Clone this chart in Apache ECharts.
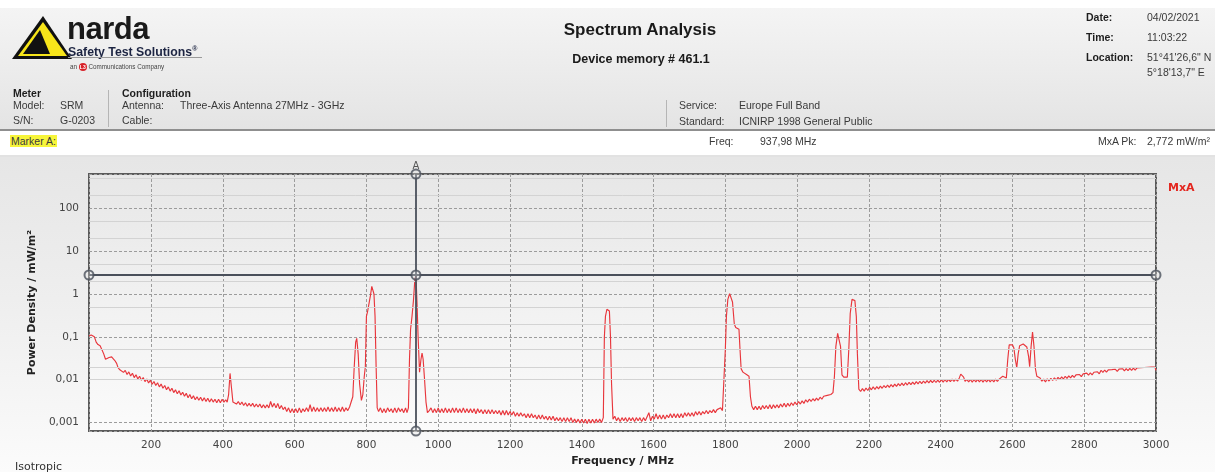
<!DOCTYPE html>
<html>
<head>
<meta charset="utf-8">
<script src="https://cdn.jsdelivr.net/npm/echarts@6/dist/echarts.min.js"></script>
<style>
  html, body { margin:0; padding:0; }
  body { width:1215px; height:472px; position:relative; overflow:hidden; background:#fff;
         font-family:"Liberation Sans", Arial, sans-serif; color:#333; }
  .abs { position:absolute; white-space:nowrap; }
  #hdrbg { position:absolute; left:0; top:8px; width:1215px; height:122px;
           background:linear-gradient(#f4f4f4, #e4e4e4); }
  #hdrsep { position:absolute; left:0; top:129px; width:1215px; height:2px; background:#8f8f8f; }
  #mkrow { position:absolute; left:0; top:131px; width:1215px; height:24px; background:#fff; }
  #mksep { position:absolute; left:0; top:155px; width:1215px; height:2px; background:#e2e2e2; }
  #panel { position:absolute; left:0; top:157px; width:1215px; height:315px;
           background:linear-gradient(#e6e6e6 0%, #eeeeee 45%, #fbfbfb 100%); }
  #chart { position:absolute; left:0; top:0; width:1215px; height:472px; }
  .s { font-size:10.5px; line-height:12px; color:#3a3a3a; }
  .b { font-weight:bold; color:#1e1e1e; }
  .vline { position:absolute; width:1px; background:#b5b5b5; }
</style>
</head>
<body>
<div id="hdrbg"></div>
<div id="hdrsep"></div>
<div id="mkrow"></div>
<div id="mksep"></div>
<div id="panel"></div>
<div id="chart"></div>

<!-- logo -->
<svg class="abs" style="left:10px;top:14px" width="62" height="48" viewBox="0 0 62 48">
  <polygon points="33,2 2,45 62,45" fill="#111"/>
  <polygon points="33,8 8,42 57,42" fill="#f7e51a"/>
  <polygon points="30,16 13,40 40,40" fill="#111"/>
</svg>
<div class="abs" style="left:67px;top:12px;font-size:31px;font-weight:bold;letter-spacing:-0.5px;color:#1a1a1a;line-height:34px">narda</div>
<div class="abs" style="left:68px;top:42px;font-size:12.3px;font-weight:bold;color:#1c2442;line-height:14px">Safety Test Solutions<sup style="font-size:7px">®</sup></div>
<div class="abs" style="left:68px;top:57px;width:134px;height:1px;background:#9a9a9a"></div>
<div class="abs" style="left:70px;top:63px;font-size:6.3px;color:#444;line-height:8px">an <span style="display:inline-block;width:8px;height:8px;border-radius:4px;background:#d8232a;color:#fff;font-size:5px;text-align:center;line-height:8px;font-weight:bold;vertical-align:middle">L3</span> Communications Company</div>

<div class="abs" style="left:440px;top:20px;width:400px;text-align:center;font-size:17px;font-weight:bold;color:#1a1a1a;line-height:20px">Spectrum Analysis</div>
<div class="abs" style="left:440px;top:52px;width:402px;text-align:center;font-size:12.5px;font-weight:bold;color:#1a1a1a;line-height:15px">Device memory # 461.1</div>

<div class="abs s b" style="left:1086px;top:11px">Date:</div>
<div class="abs s" style="left:1147px;top:11px">04/02/2021</div>
<div class="abs s b" style="left:1086px;top:31px">Time:</div>
<div class="abs s" style="left:1147px;top:31px">11:03:22</div>
<div class="abs s b" style="left:1086px;top:51px">Location:</div>
<div class="abs s" style="left:1147px;top:51px">51°41'26,6" N</div>
<div class="abs s" style="left:1147px;top:66px">5°18'13,7" E</div>

<div class="abs s b" style="left:13px;top:87px">Meter</div>
<div class="abs s" style="left:13px;top:99px">Model:</div>
<div class="abs s" style="left:60px;top:99px">SRM</div>
<div class="abs s" style="left:13px;top:114px">S/N:</div>
<div class="abs s" style="left:60px;top:114px">G-0203</div>
<div class="vline" style="left:108px;top:90px;height:37px"></div>
<div class="abs s b" style="left:122px;top:87px">Configuration</div>
<div class="abs s" style="left:122px;top:99px">Antenna:</div>
<div class="abs s" style="left:180px;top:99px">Three-Axis Antenna 27MHz - 3GHz</div>
<div class="abs s" style="left:122px;top:114px">Cable:</div>
<div class="vline" style="left:666px;top:100px;height:27px"></div>
<div class="abs s" style="left:679px;top:99px">Service:</div>
<div class="abs s" style="left:739px;top:99px">Europe Full Band</div>
<div class="abs s" style="left:679px;top:115px">Standard:</div>
<div class="abs s" style="left:739px;top:115px">ICNIRP 1998 General Public</div>

<div class="abs s" style="left:10px;top:135px;background:#f7f53a;padding:0 1px">Marker A:</div>
<div class="abs s" style="left:709px;top:135px">Freq:</div>
<div class="abs s" style="left:760px;top:135px">937,98 MHz</div>
<div class="abs s" style="left:1098px;top:135px">MxA Pk:</div>
<div class="abs s" style="left:1147px;top:135px">2,772 mW/m²</div>

<div class="abs" style="left:15px;top:460px;font-family:'DejaVu Sans',sans-serif;font-size:11px;color:#333;line-height:13px">Isotropic</div>

<script>
// ---- data ----
const seriesName = 'MxA';
const xMinMHz = 27;
const xMaxMHz = 3000;
const yMinDensity = 0.000631;
const yMaxDensity = 631;
const yDecadeLabels = [0.001, 0.01, 0.1, 1, 10, 100];
const minorGridValues = [0.002, 0.005, 0.02, 0.05, 0.2, 0.5, 2, 5, 20, 50, 200, 500];
const markerFreqMHz = 937.98;
const markerPeakDensity = 2.772;

// [frequency MHz, power density mW/m²]
const traceMxA = [
  [27,0.105],[33,0.11],[38,0.118],[42,0.1],[47,0.075],[52,0.066],[58,0.062],[63,0.05],[68,0.04],[73,0.03],
  [78,0.031],[83,0.033],[90,0.034],[95,0.037],[99,0.028],[104,0.024],[108,0.019],[113,0.017],[118,0.0175],[123,0.0148],
  [128,0.0165],[133,0.0132],[138,0.0152],[143,0.0122],[148,0.0141],[153,0.0112],[158,0.013],[163,0.0104],[168,0.012],[173,0.0097],
  [178,0.0112],[183,0.009],[188,0.0104],[193,0.0084],[198,0.0097],[203,0.0078],[208,0.0091],[213,0.0073],[218,0.0085],[223,0.0068],
  [228,0.0079],[233,0.0063],[238,0.0073],[243,0.0058],[248,0.0068],[253,0.0054],[258,0.0063],[263,0.005],[268,0.0058],[273,0.0047],
  [278,0.0055],[283,0.0044],[288,0.0051],[293,0.0041],[298,0.0048],[303,0.0038],[308,0.0045],[313,0.0036],[318,0.0042],[323,0.0034],
  [328,0.004],[333,0.0033],[338,0.0039],[343,0.0032],[348,0.0038],[353,0.0031],[358,0.0037],[363,0.003],[368,0.0036],[373,0.003],
  [378,0.0035],[383,0.0029],[388,0.0035],[393,0.0029],[398,0.0035],[403,0.003],[408,0.0034],[412,0.003],[416,0.0045],[420,0.014],
  [424,0.0065],[428,0.003],[433,0.0033],[438,0.0027],[443,0.0031],[448,0.0026],[453,0.003],[458,0.0025],[463,0.0029],[468,0.0024],
  [473,0.0028],[478,0.0024],[483,0.0028],[488,0.0023],[493,0.0027],[498,0.0023],[503,0.0027],[508,0.0022],[513,0.0026],[518,0.0022],
  [523,0.0026],[528,0.0022],[533,0.0031],[538,0.0023],[543,0.0028],[548,0.0022],[553,0.0028],[558,0.0021],[563,0.0025],[568,0.002],
  [573,0.0023],[578,0.0018],[583,0.0022],[588,0.0017],[593,0.0021],[598,0.0017],[603,0.0021],[608,0.0017],[613,0.0022],[618,0.0017],
  [623,0.0021],[628,0.0018],[633,0.0022],[638,0.0018],[643,0.0026],[648,0.0018],[653,0.0023],[658,0.0018],[663,0.0022],[668,0.0018],
  [673,0.0022],[678,0.0018],[683,0.0022],[688,0.0018],[693,0.0023],[698,0.0018],[703,0.0022],[708,0.0018],[713,0.0023],[718,0.0018],
  [723,0.0022],[728,0.0018],[733,0.0023],[738,0.0018],[743,0.0022],[748,0.0019],[753,0.0023],[758,0.0025],[762,0.004],[766,0.02],
  [770,0.075],[773,0.092],[777,0.04],[781,0.008],[786,0.0033],[790,0.0045],[794,0.012],[797,0.02],[800,0.3],[803,0.38],
  [807,0.42],[811,0.9],[815,1.5],[818,1.55],[821,1.0],[824,0.3],[827,0.02],[830,0.0022],[834,0.0018],[839,0.0022],
  [844,0.0017],[849,0.0021],[854,0.0017],[859,0.0022],[864,0.0018],[869,0.0021],[874,0.0017],[879,0.0022],[884,0.0017],[889,0.0022],
  [894,0.0018],[899,0.0021],[904,0.0017],[909,0.0022],[913,0.0017],[917,0.0022],[920,0.03],[923,0.15],[927,0.3],[931,0.7],
  [935,2.2],[938,2.77],[941,0.6],[944,0.1],[948,0.015],[952,0.03],[955,0.042],[958,0.03],[962,0.01],[966,0.003],
  [970,0.0017],[975,0.0019],[980,0.0022],[985,0.0017],[990,0.0021],[995,0.0017],[1000,0.0022],[1005,0.0017],[1010,0.0021],[1015,0.0017],
  [1020,0.0022],[1025,0.0017],[1030,0.0021],[1035,0.0017],[1040,0.0022],[1045,0.0017],[1050,0.0022],[1055,0.0017],[1060,0.0021],[1065,0.0017],
  [1070,0.0022],[1075,0.0017],[1080,0.0021],[1085,0.0017],[1090,0.0021],[1095,0.0017],[1100,0.0021],[1105,0.0016],[1110,0.0021],[1115,0.0017],
  [1120,0.002],[1125,0.0016],[1130,0.002],[1135,0.0016],[1140,0.002],[1145,0.0016],[1150,0.002],[1155,0.0016],[1160,0.0019],[1165,0.0016],
  [1170,0.0019],[1175,0.0015],[1180,0.0019],[1185,0.0015],[1190,0.0019],[1195,0.0015],[1200,0.0018],[1205,0.0015],[1210,0.0018],[1215,0.0014],
  [1220,0.0017],[1225,0.0014],[1230,0.0017],[1235,0.0014],[1240,0.0016],[1245,0.0013],[1250,0.0016],[1255,0.0013],[1260,0.0016],[1265,0.0013],
  [1270,0.0015],[1275,0.0012],[1280,0.0015],[1285,0.0012],[1290,0.0015],[1295,0.0012],[1300,0.0014],[1305,0.00115],[1310,0.0014],[1315,0.00115],
  [1320,0.0014],[1325,0.0011],[1330,0.0013],[1335,0.0011],[1340,0.0013],[1345,0.00105],[1350,0.0013],[1355,0.00105],[1360,0.0013],[1365,0.00105],
  [1370,0.0013],[1375,0.001],[1380,0.0012],[1385,0.001],[1390,0.0012],[1395,0.00098],[1400,0.0012],[1405,0.00098],[1410,0.0012],[1415,0.00095],
  [1420,0.0012],[1425,0.00098],[1430,0.0012],[1435,0.00098],[1440,0.0012],[1445,0.001],[1450,0.0012],[1455,0.001],[1460,0.0013],[1463,0.1],
  [1466,0.3],[1470,0.44],[1474,0.45],[1477,0.4],[1480,0.1],[1483,0.008],[1487,0.0012],[1492,0.0014],[1497,0.0011],[1502,0.0013],
  [1507,0.00105],[1512,0.0013],[1517,0.0011],[1522,0.0013],[1527,0.00105],[1532,0.0013],[1537,0.0011],[1542,0.0013],[1547,0.00105],[1552,0.0013],
  [1557,0.0011],[1562,0.0013],[1567,0.00105],[1572,0.0013],[1577,0.0011],[1582,0.0012],[1587,0.0017],[1592,0.0011],[1597,0.0014],[1602,0.0012],
  [1607,0.0016],[1612,0.0012],[1617,0.0015],[1622,0.0012],[1627,0.0015],[1632,0.0012],[1637,0.0015],[1642,0.0013],[1647,0.0016],[1652,0.0013],
  [1657,0.0016],[1662,0.0013],[1667,0.0016],[1672,0.0013],[1677,0.0016],[1682,0.0013],[1687,0.0017],[1692,0.0014],[1697,0.0017],[1702,0.0014],
  [1707,0.0017],[1712,0.0014],[1717,0.0018],[1722,0.0015],[1727,0.0018],[1732,0.0015],[1737,0.0018],[1742,0.0016],[1747,0.0019],[1752,0.0016],
  [1757,0.0019],[1762,0.0017],[1767,0.002],[1772,0.0017],[1777,0.002],[1782,0.0018],[1787,0.0022],[1792,0.0019],[1797,0.0021],[1800,0.05],
  [1803,0.3],[1807,0.75],[1812,1.02],[1816,0.95],[1820,0.65],[1825,0.2],[1829,0.165],[1834,0.16],[1838,0.15],[1841,0.05],
  [1844,0.018],[1849,0.015],[1854,0.014],[1860,0.013],[1866,0.012],[1870,0.004],[1874,0.0024],[1879,0.002],[1884,0.0024],[1889,0.002],
  [1894,0.0024],[1899,0.002],[1904,0.0025],[1909,0.0021],[1914,0.0025],[1919,0.0021],[1924,0.0026],[1929,0.0021],[1934,0.0026],[1939,0.0022],
  [1944,0.0026],[1949,0.0022],[1954,0.0027],[1959,0.0023],[1964,0.0028],[1969,0.0023],[1974,0.0028],[1979,0.0024],[1984,0.0029],[1989,0.0025],
  [1994,0.003],[1999,0.0026],[2004,0.0031],[2009,0.0027],[2014,0.0032],[2019,0.0028],[2024,0.0034],[2029,0.003],[2034,0.0035],[2039,0.0031],
  [2044,0.0036],[2049,0.0032],[2054,0.0037],[2059,0.0033],[2064,0.0039],[2069,0.0035],[2074,0.0041],[2079,0.0037],[2084,0.0043],[2089,0.0039],
  [2094,0.0045],[2100,0.005],[2104,0.012],[2108,0.06],[2113,0.12],[2117,0.125],[2121,0.06],[2125,0.013],[2130,0.0115],[2135,0.011],
  [2140,0.0115],[2144,0.05],[2148,0.35],[2153,0.75],[2157,0.8],[2161,0.7],[2165,0.3],[2168,0.04],[2172,0.006],[2177,0.0053],
  [2182,0.0062],[2187,0.0054],[2192,0.0064],[2197,0.0056],[2202,0.0066],[2207,0.0058],[2212,0.0068],[2217,0.0059],[2222,0.0069],[2227,0.0061],
  [2232,0.0071],[2237,0.0063],[2242,0.0073],[2247,0.0065],[2252,0.0075],[2257,0.0066],[2262,0.0077],[2267,0.0068],[2272,0.0079],[2277,0.007],
  [2282,0.0081],[2287,0.0072],[2292,0.0083],[2297,0.0073],[2302,0.0085],[2307,0.0075],[2312,0.0087],[2317,0.0077],[2322,0.0088],[2327,0.0078],
  [2332,0.009],[2337,0.008],[2342,0.0092],[2347,0.0081],[2352,0.0093],[2357,0.0083],[2362,0.0095],[2367,0.0084],[2372,0.0096],[2377,0.0085],
  [2382,0.0097],[2387,0.0086],[2392,0.0098],[2397,0.0087],[2402,0.01],[2407,0.0088],[2412,0.0101],[2417,0.0089],[2422,0.0102],[2427,0.009],
  [2432,0.0103],[2437,0.0091],[2442,0.0103],[2447,0.0092],[2452,0.011],[2456,0.0135],[2460,0.0135],[2464,0.0115],[2468,0.0091],[2473,0.0102],
  [2478,0.0089],[2483,0.0101],[2488,0.0088],[2493,0.0101],[2498,0.0089],[2503,0.0102],[2508,0.0089],[2513,0.0101],[2518,0.0088],[2523,0.0101],
  [2528,0.0089],[2533,0.0102],[2538,0.0089],[2543,0.0101],[2548,0.0089],[2553,0.0103],[2558,0.0091],[2563,0.0103],[2568,0.011],[2573,0.012],
  [2578,0.0125],[2583,0.011],[2587,0.03],[2591,0.065],[2596,0.072],[2600,0.065],[2604,0.055],[2608,0.03],[2612,0.019],[2616,0.04],
  [2620,0.062],[2625,0.066],[2630,0.068],[2635,0.064],[2640,0.058],[2645,0.035],[2648,0.02],[2652,0.06],[2656,0.13],[2660,0.06],
  [2664,0.018],[2668,0.012],[2672,0.0125],[2677,0.011],[2682,0.0092],[2687,0.0103],[2692,0.0088],[2697,0.0105],[2702,0.0093],[2707,0.0108],
  [2712,0.0096],[2717,0.0111],[2722,0.0098],[2727,0.0113],[2732,0.0101],[2737,0.0116],[2742,0.0104],[2747,0.012],[2752,0.0107],[2757,0.0123],
  [2762,0.011],[2767,0.0126],[2772,0.0113],[2777,0.0129],[2782,0.0116],[2787,0.0132],[2792,0.0118],[2797,0.0137],[2802,0.0124],[2807,0.0142],
  [2812,0.0127],[2817,0.0145],[2822,0.013],[2827,0.0149],[2832,0.0134],[2837,0.0153],[2842,0.0137],[2847,0.0166],[2852,0.0148],[2857,0.0168],
  [2862,0.015],[2867,0.017],[2872,0.0153],[2877,0.0172],[2882,0.0155],[2887,0.0175],[2892,0.0157],[2897,0.0177],[2902,0.0159],[2907,0.018],
  [2912,0.0161],[2917,0.0182],[2922,0.0163],[2927,0.0184],[2932,0.0165],[2937,0.0186],[2942,0.0167],[2947,0.0188],[2952,0.0169],[2957,0.019],
  [2962,0.0171],[2967,0.0192],[2972,0.0173],[2977,0.0194],[2982,0.0175],[2987,0.0196],[2992,0.0177],[2997,0.0198],[3000,0.0165]
];

// marker symbol positions (marker A crosshair)
const markerPoints = [
  [xMinMHz, markerPeakDensity], [xMaxMHz, markerPeakDensity], [markerFreqMHz, markerPeakDensity],
  [markerFreqMHz, yMaxDensity], [markerFreqMHz, yMinDensity]
];

const chart = echarts.init(document.getElementById('chart'), null, { renderer: 'canvas' });

function fmtDecade(v) {
  const r = Number(Number(v).toPrecision(3));
  if (yDecadeLabels.indexOf(r) < 0) return '';
  return String(r).replace('.', ',');
}

const axisFont = { fontFamily: 'DejaVu Sans', fontSize: 10.5, color: '#444' };
const markColor = '#4a505b';

chart.setOption({
  animation: false,
  backgroundColor: 'transparent',
  grid: {
    left: 89, right: 59, top: 174, bottom: 40,
    show: true,
    borderColor: '#5a5a5a', borderWidth: 2,
    backgroundColor: new echarts.graphic.LinearGradient(0, 0, 0, 1, [
      { offset: 0, color: '#e7e7e7' }, { offset: 1, color: '#fbfbfb' }
    ])
  },
  legend: {
    data: [seriesName], left: 1158, top: 176, icon: 'none', itemWidth: 0, itemGap: 0,
    selectedMode: false,
    textStyle: { color: '#e3261f', fontWeight: 'bold', fontSize: 11, fontFamily: 'DejaVu Sans' }
  },
  xAxis: {
    type: 'value', min: xMinMHz, max: xMaxMHz,
    splitNumber: 15, minInterval: 200, maxInterval: 200,
    name: 'Frequency / MHz', nameLocation: 'middle', nameGap: 21,
    nameTextStyle: { fontFamily: 'DejaVu Sans', fontSize: 11, fontWeight: 'bold', color: '#222' },
    axisLine: { show: false }, axisTick: { show: false },
    axisLabel: Object.assign({ margin: 9, showMinLabel: false,
      formatter: v => (v === xMinMHz ? '' : String(v)) }, axisFont),
    splitLine: { show: true, lineStyle: { color: '#9c9c9c', type: [3, 2], width: 1 } }
  },
  yAxis: {
    type: 'log', logBase: 10, min: yMinDensity, max: yMaxDensity,
    name: 'Power Density / mW/m²', nameLocation: 'middle', nameGap: 49, nameRotate: 90,
    nameTextStyle: { fontFamily: 'DejaVu Sans', fontSize: 11, fontWeight: 'bold', color: '#222' },
    axisLine: { show: false }, axisTick: { show: false },
    axisLabel: Object.assign({ margin: 10, showMinLabel: false, showMaxLabel: false,
      formatter: fmtDecade }, axisFont),
    splitLine: { show: true, lineStyle: { color: '#9c9c9c', type: [3, 2], width: 1 } }
  },
  series: [
    {
      name: 'minor-grid', type: 'line', data: [], z: 1, silent: true,
      markLine: {
        silent: true, symbol: ['none', 'none'], animation: false,
        label: { show: false },
        lineStyle: { color: '#d3d3d3', type: 'solid', width: 1 },
        data: minorGridValues.map(v => ({ yAxis: v }))
      }
    },
    {
      name: seriesName, type: 'line', data: traceMxA, z: 3,
      showSymbol: false, symbol: 'none', smooth: false,
      lineStyle: { color: '#e8363c', width: 1.15 },
      itemStyle: { color: '#e3261f' }
    },
    {
      name: 'markerA', type: 'scatter', data: markerPoints, z: 5, silent: true, clip: true,
      symbol: 'circle', symbolSize: 9,
      itemStyle: { color: 'rgba(230,230,230,0.4)', borderColor: markColor, borderWidth: 2 },
      markLine: {
        silent: true, symbol: ['none', 'none'], animation: false,
        lineStyle: { color: markColor, type: 'solid', width: 1.8 },
        label: { show: false },
        data: [
          { xAxis: markerFreqMHz,
            label: { show: true, position: 'end', formatter: 'A', color: '#555',
                     fontFamily: 'DejaVu Sans', fontSize: 10, distance: 3 } },
          { yAxis: markerPeakDensity }
        ]
      }
    }
  ]
});
</script>
</body>
</html>
